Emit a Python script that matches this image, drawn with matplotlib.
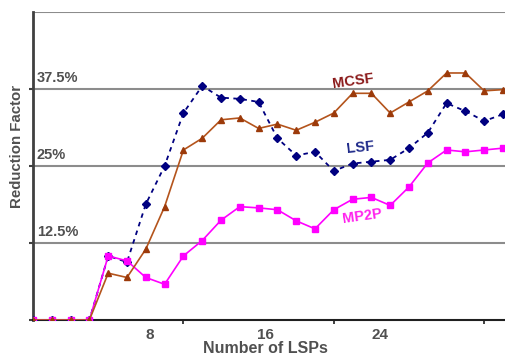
import numpy as np
import matplotlib
matplotlib.use("Agg")
import matplotlib.pyplot as plt

# number of LSPs index (category positions)
lsp = np.arange(26)

mcsf = [0, 0, 0, 0, 7.6, 6.9, 11.5, 18.4, 27.6, 29.5, 32.5, 32.8, 31.1,
        31.8, 30.8, 32.1, 33.6, 36.8, 36.8, 33.6, 35.4, 37.2, 40.1, 40.1,
        37.2, 37.4]
lsf = [0, 0, 0, 0, 10.4, 9.4, 18.8, 25.0, 33.6, 38.0, 36.1, 35.9, 35.4,
       29.5, 26.7, 27.3, 24.2, 25.4, 25.7, 26.0, 27.9, 30.4, 35.2, 33.9,
       32.3, 33.4]
mp2p = [0, 0, 0, 0, 10.4, 9.6, 6.9, 5.8, 10.4, 12.9, 16.2, 18.4, 18.2,
        17.9, 16.1, 14.8, 17.9, 19.6, 19.9, 18.6, 21.6, 25.5, 27.6, 27.3,
        27.6, 27.9]

grid_vals = [12.5, 25, 37.5, 50]
grid_labels = ["12.5%", "25%", "37.5%", ""]
xtick_pos = [8, 16, 24]
xlabel_pos = [6.22, 12.34, 18.46]   # labels sit left of the tick marks in the original
xlabel_txt = ["8", "16", "24"]

W, H = 506, 356
fig = plt.figure(figsize=(W / 100, H / 100), dpi=100)
ax = fig.add_axes([33 / W, 36 / H, 473 / W, 308 / H])

gray = "#505050"
font = ["Liberation Sans", "DejaVu Sans"]

for v in grid_vals:
    ax.axhline(v, color="#8c8c8c", lw=1.5, zorder=1)

ax.plot(lsp, lsf, color="#000080", lw=1.3, ls=(0, (2.5, 2.5)), marker="D",
        ms=3.6, mfc="#000080", mec="#000080", zorder=3)
ax.plot(lsp, mp2p, color="#ff00ff", lw=1.2, marker="s", ms=3.8,
        mfc="#ff00ff", mec="#ff00ff", zorder=4)
ax.plot(lsp, mcsf, color="#b4541c", lw=1.2, marker="^", ms=5,
        mfc="#9c3a0a", mec="#9c3a0a", zorder=5)

ax.set_xlim(0, 25.16)
ax.set_ylim(0, 50)

# y labels drawn inside the plot, above the gridlines
for v, t in zip(grid_vals, grid_labels):
    if t:
        ax.text(0.2, v + 0.6, t, fontsize=10.5, fontweight="bold", color=gray,
                family=font, ha="left", va="bottom")

ax.set_yticks(grid_vals[:-1] + [0])
ax.set_yticklabels([])
ax.tick_params(axis="y", length=3, width=1.5, color="#404040")
ax.set_xticks(xtick_pos)
ax.set_xticklabels([])
ax.tick_params(axis="x", length=3, width=1.2, color="#202020")
for x, t in zip(xlabel_pos, xlabel_txt):
    ax.text(x, -2.45, t, fontsize=11, fontweight="bold", color=gray,
            family=font, ha="center", va="center", clip_on=False)

for s in ["top", "right"]:
    ax.spines[s].set_visible(False)
ax.spines["left"].set_color("#404040")
ax.spines["left"].set_linewidth(2)
ax.spines["bottom"].set_color("#202020")
ax.spines["bottom"].set_linewidth(1.5)

# series names
ax.text(17.0, 38.8, "MCSF", color="#8b1a1a", fontsize=10.5, fontweight="bold",
        family=font, ha="center", va="center", rotation=8)
ax.text(17.4, 28.0, "LSF", color="#1f2a8a", fontsize=10.5, fontweight="bold",
        family=font, ha="center", va="center", rotation=6)
ax.text(17.5, 16.9, "MP2P", color="#ff22ee", fontsize=10.5, fontweight="bold",
        family=font, ha="center", va="center", rotation=8)

fig.text(265 / W, 1 - 348.5 / H, "Number of LSPs", fontsize=11.5,
         fontweight="bold", color=gray, family=font, ha="center", va="center")
fig.text(17 / W, 1 - 146 / H, "Reduction Factor", fontsize=10.8,
         fontweight="bold", color=gray, family=font, ha="center", va="center",
         rotation=90)

fig.savefig("out.png", dpi=100)
